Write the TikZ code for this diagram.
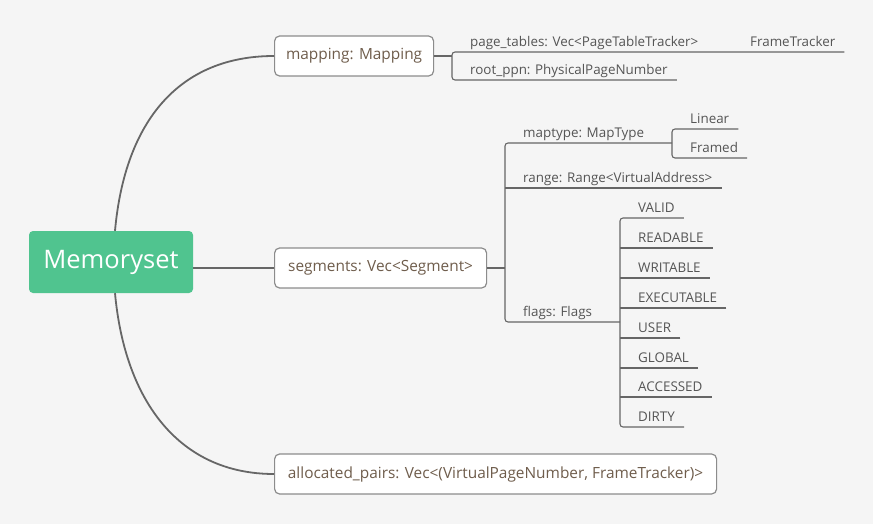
\documentclass[tikz,border=0pt]{standalone}
\usepackage{fontspec}
\setmainfont{Open Sans}
\usetikzlibrary{positioning}
\definecolor{bgc}{HTML}{F5F5F5}
\definecolor{rootc}{HTML}{50C48F}
\definecolor{linec}{HTML}{666666}
\definecolor{boxtext}{HTML}{6F5D4C}
\definecolor{leaftext}{HTML}{555555}
\definecolor{boxline}{HTML}{8C8C8C}
\tikzset{
  rootnode/.style={fill=rootc, text=white, rounded corners=4pt, minimum width=164pt,
    minimum height=62pt, inner sep=0pt, font=\fontsize{25.5}{30}\selectfont},
  fieldbox/.style={draw=boxline, line width=1.2pt, fill=white, rounded corners=5pt,
    minimum height=40pt, inner sep=0pt, anchor=west, text=boxtext, font=\fontsize{15.4}{18}\selectfont},
  leaf/.style={anchor=south west, inner xsep=9pt, inner ysep=3pt, text=leaftext,
    font=\fontsize{13.4}{16}\selectfont, text height=9.5pt, text depth=2.5pt},
  branch/.style={draw=linec, line width=1.8pt},
  twig/.style={draw=linec, line width=1.1pt, rounded corners=3pt},
}
\begin{document}
\begin{tikzpicture}[x=1pt,y=-1pt]
\useasboundingbox[fill=bgc] (0,0) rectangle (873,524);

% root and first level
\node[rootnode] (root) at (111,262) {Memoryset};
\node[fieldbox, minimum width=159pt] (mapping) at (274,56) {mapping: Mapping};
\node[fieldbox, minimum width=212pt] (segments) at (274,268) {segments: Vec<Segment>};
\node[fieldbox, minimum width=442pt] (pairs) at (274,474) {allocated\_pairs: Vec<(VirtualPageNumber, FrameTracker)>};

\draw[branch] (root.north)++(4,0) .. controls (125,120) and (180,56) .. (mapping.west);
\draw[branch] (root.south)++(4,0) .. controls (125,402) and (180,474) .. (pairs.west);
\draw[branch] (segments.west) -- (segments.west -| root.east);

% mapping fields
\node[leaf] (pagetables) at (461,52) {page\_tables: Vec<PageTableTracker>};
\node[leaf] (frame) at (741,52) {FrameTracker};
\node[leaf] (rootppn) at (461,80) {root\_ppn: PhysicalPageNumber};
\coordinate (mapfork) at (452,52);
\draw[twig] (mapping.east) -- (mapping.east -| mapfork);
\draw[twig] (frame.south east) -- (mapfork) |- (rootppn.south east);

% segment fields
\node[leaf] (maptype) at (514,143) {maptype: MapType};
\node[leaf] (range) at (514,188) {range: Range<VirtualAddress>};
\node[leaf] (flags) at (514,322) {flags: Flags};
\coordinate (segfork) at (505,143);
\coordinate (typefork) at (672,129);
\coordinate (flagfork) at (620,218);
\draw[twig] (segments.east) -- (segments.east -| segfork);
\draw[twig] (maptype.south -| typefork) -- (segfork) |- (flags.south -| flagfork);
\draw[twig] (range.south east) -- (range.south west -| segfork);

% map types
\node[leaf] (linear) at (681,129) {Linear};
\node[leaf] (framed) at (681,158) {Framed};
\draw[twig] (linear.south east) -- (typefork) |- (framed.south east);

% flag bits
\foreach \name/\txt/\y in {valid/VALID/218, readable/READABLE/248, writable/WRITABLE/278,
    executable/EXECUTABLE/308, user/USER/338, global/GLOBAL/368, accessed/ACCESSED/397, dirty/DIRTY/427}
  \node[leaf] (\name) at (629,\y) {\txt};
\draw[twig] (valid.south east) -- (flagfork) |- (dirty.south east);
\foreach \name in {readable, writable, executable, user, global, accessed}
  \draw[twig] (\name.south east) -- (\name.south west -| flagfork);

\end{tikzpicture}
\end{document}
